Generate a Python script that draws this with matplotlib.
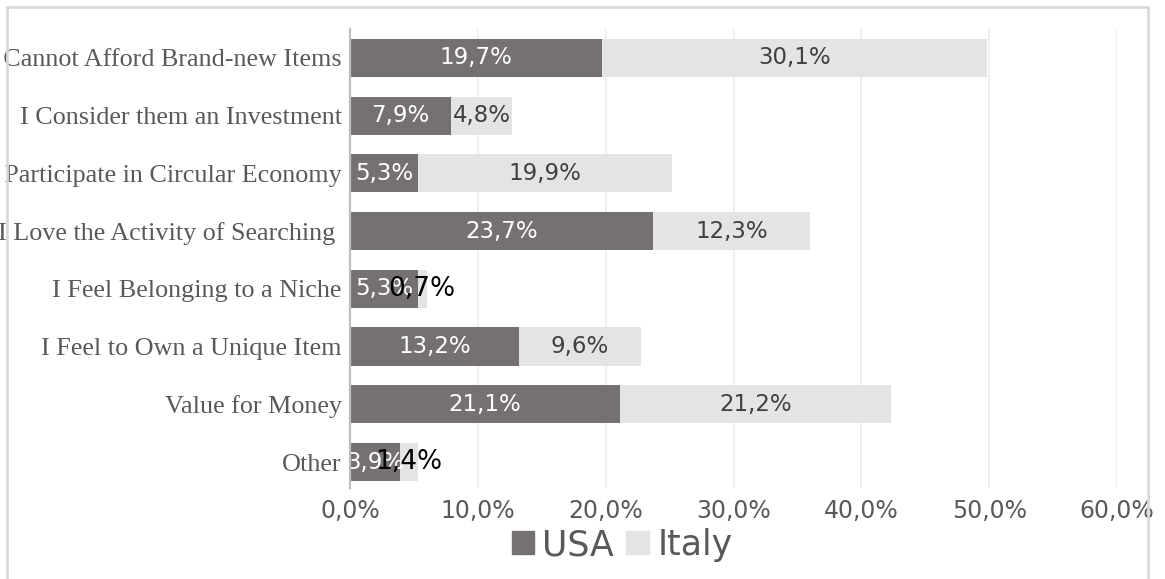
import matplotlib
matplotlib.use('Agg')
from matplotlib import pyplot as plt
from matplotlib.patches import Rectangle, Patch
import numpy as np

categories = ['I Cannot Afford Brand-new Items', 'I Consider them an Investment',
              'I Participate in Circular Economy', 'I Love the Activity of Searching ',
              'I Feel Belonging to a Niche', 'I Feel to Own a Unique Item',
              'Value for Money', 'Other']
usa = [19.7, 7.9, 5.3, 23.7, 5.3, 13.2, 21.1, 3.9]
italy = [30.1, 4.8, 19.9, 12.3, 0.7, 9.6, 21.2, 1.4]
x_ticks = [0, 10, 20, 30, 40, 50, 60]

USA_COLOR = '#767171'
ITALY_COLOR = '#e4e4e4'
TEXT_GRAY = '#595959'


def pct(v):
    return '{:.1f}%'.format(v).replace('.', ',')


def main():
    fig = plt.figure(figsize=(11.65, 5.79), dpi=100)
    ax = fig.add_axes([350 / 1165, 1 - 488 / 579, (1117 - 350) / 1165, (488 - 29) / 579])

    y = np.arange(len(categories))
    h = 0.66
    ax.barh(y, usa, height=h, color=USA_COLOR, label='USA', zorder=2)
    ax.barh(y, italy, left=usa, height=h, color=ITALY_COLOR, label='Italy', zorder=2)

    for i in range(len(categories)):
        ax.text(usa[i] / 2, y[i], pct(usa[i]), color='white', fontsize=16.5,
                ha='center', va='center', zorder=3)
        small = italy[i] < 2
        ax.text(usa[i] + italy[i] / 2, y[i], pct(italy[i]),
                color='black' if small else '#404040',
                fontsize=19 if small else 16.5, ha='center', va='center', zorder=4)

    ax.set_xlim(0, 60)
    ax.set_ylim(len(categories) - 0.55, -0.5)
    ax.set_yticks(y)
    ax.set_yticklabels(categories, family='Liberation Serif', fontsize=18.8, color=TEXT_GRAY)
    ax.set_xticks(x_ticks)
    ax.set_xticklabels([pct(t) for t in x_ticks], fontsize=17, color=TEXT_GRAY)
    ax.tick_params(axis='y', length=0, pad=6)
    ax.tick_params(axis='x', length=0, pad=8)

    ax.grid(axis='x', color='#ececec', lw=1.2, zorder=0)
    for s in ['top', 'right', 'bottom']:
        ax.spines[s].set_visible(False)
    ax.spines['left'].set_color('#bfbfbf')
    ax.spines['left'].set_linewidth(1.6)
    ax.spines['left'].set_zorder(5)

    handles = [Patch(color=USA_COLOR), Patch(color=ITALY_COLOR)]
    fig.legend(handles, ['USA', 'Italy'], loc='center', bbox_to_anchor=(622 / 1165, 1 - 545 / 579),
               ncol=2, frameon=False, fontsize=25, handlelength=0.66, handleheight=0.63,
               handletextpad=0.23, columnspacing=0.35, labelcolor=TEXT_GRAY,
               borderpad=0, borderaxespad=0)

    # outer chart border
    fig.patches.append(Rectangle((7 / 1165, -0.1), (1148 - 7) / 1165, 1.1 - 7 / 579,
                                 transform=fig.transFigure, fill=False,
                                 edgecolor='#d9d9d9', lw=2, zorder=0))

    fig.savefig('out.png', dpi=100)


if __name__ == '__main__':
    main()
